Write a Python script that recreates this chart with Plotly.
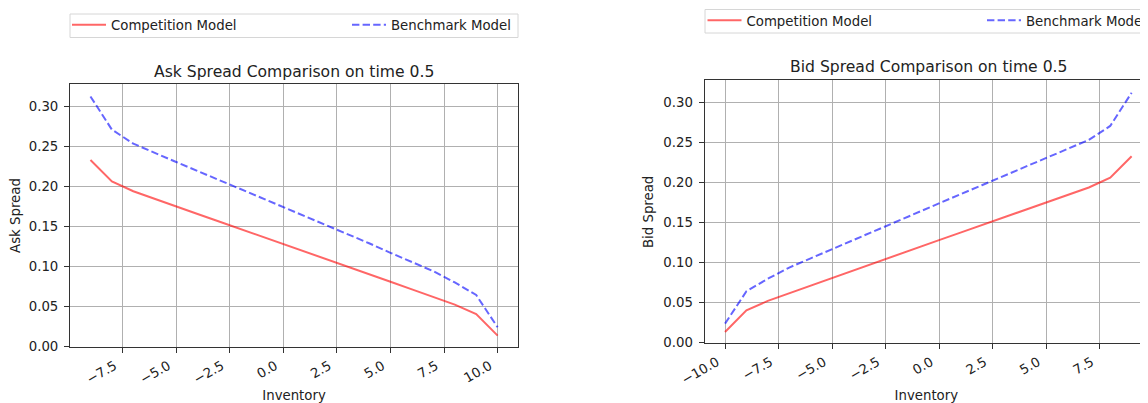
import plotly.graph_objects as go

# reference canvas is 1148x403; the page body adds an 8px offset, so the
# figure is drawn 8px smaller and all reference positions are shifted by 8px
REF_W, REF_H = 1148, 403
OFF = 8
W, H = REF_W - OFF, REF_H - OFF

# ---- data ----
inventory_ask = [-9, -8, -7, -6, -5, -4, -3, -2, -1, 0, 1, 2, 3, 4, 5, 6, 7, 8, 9, 10]
ask_competition = [0.2325, 0.2058, 0.1935, 0.1838, 0.1743, 0.1650, 0.1557, 0.1464, 0.1371, 0.1278,
                   0.1183, 0.1088, 0.0993, 0.0898, 0.0804, 0.0709, 0.0614, 0.0518, 0.0400, 0.0130]
ask_benchmark = [0.3120, 0.2705, 0.2530, 0.2410, 0.2300, 0.2188, 0.2076, 0.1964, 0.1851, 0.1738,
                 0.1625, 0.1512, 0.1399, 0.1285, 0.1165, 0.1050, 0.0935, 0.0795, 0.0638, 0.0234]

inventory_bid = [-10, -9, -8, -7, -6, -5, -4, -3, -2, -1, 0, 1, 2, 3, 4, 5, 6, 7, 8, 9]
bid_competition = [0.0130, 0.0400, 0.0518, 0.0614, 0.0709, 0.0804, 0.0898, 0.0993, 0.1088, 0.1183,
                   0.1278, 0.1371, 0.1464, 0.1557, 0.1650, 0.1743, 0.1838, 0.1935, 0.2058, 0.2325]
bid_benchmark = [0.0234, 0.0638, 0.0795, 0.0935, 0.1050, 0.1165, 0.1285, 0.1399, 0.1512, 0.1625,
                 0.1738, 0.1851, 0.1964, 0.2076, 0.2188, 0.2300, 0.2410, 0.2530, 0.2705, 0.3120]

series_names = ["Competition Model", "Benchmark Model"]
titles = ["Ask Spread Comparison on time 0.5", "Bid Spread Comparison on time 0.5"]
y_titles = ["Ask Spread", "Bid Spread"]
x_title = "Inventory"

FONT = "DejaVu Sans"
RED = "rgba(255,0,0,0.6)"
BLUE = "rgba(0,0,255,0.6)"
TXT = "#222222"
GRID = "#b0b0b0"
SPINE = "#333333"

def px(x):
    return (x - OFF) / W

def py(y):
    return (H - (y - OFF)) / H

fig = go.Figure()

fig.add_trace(go.Scatter(x=inventory_ask, y=ask_competition, mode="lines", name=series_names[0],
                         line=dict(color=RED, width=2), xaxis="x", yaxis="y", legend="legend"))
fig.add_trace(go.Scatter(x=inventory_ask, y=ask_benchmark, mode="lines", name=series_names[1],
                         line=dict(color=BLUE, width=2, dash="7.4px,3.2px"), xaxis="x", yaxis="y",
                         legend="legend2"))
fig.add_trace(go.Scatter(x=inventory_bid, y=bid_competition, mode="lines", name=series_names[0],
                         line=dict(color=RED, width=2), xaxis="x2", yaxis="y2", legend="legend3"))
fig.add_trace(go.Scatter(x=inventory_bid, y=bid_benchmark, mode="lines", name=series_names[1],
                         line=dict(color=BLUE, width=2, dash="7.4px,3.2px"), xaxis="x2", yaxis="y2",
                         legend="legend4"))

tickfont = dict(family=FONT, size=13.3, color=TXT)

def xax(domain, rng, anchor, mirror):
    return dict(domain=domain, range=rng, anchor=anchor, tick0=0, dtick=2.5, tickformat=".1f",
                tickangle=-30, showgrid=True, gridcolor=GRID, gridwidth=1, zeroline=False,
                showline=True, linecolor=SPINE, linewidth=1.2, mirror=mirror, automargin=False,
                ticks="outside", ticklen=5, tickcolor=SPINE, tickwidth=1.2, tickfont=tickfont,
                ticklabelshift=-8, ticklabelstandoff=0,
                title=dict(text=x_title, font=tickfont, standoff=5))

def yax(domain, anchor, mirror, title):
    return dict(domain=domain, range=[-0.0012, 0.3274], anchor=anchor, tick0=0, dtick=0.05,
                tickformat=".2f", showgrid=True, gridcolor=GRID, gridwidth=1, zeroline=False,
                showline=True, linecolor=SPINE, linewidth=1.2, mirror=mirror, automargin=False,
                ticks="outside", ticklen=5, tickcolor=SPINE, tickwidth=1.2, tickfont=tickfont,
                ticklabelstandoff=3,
                title=dict(text=title, font=tickfont, standoff=6))

left_x = [px(70.1), px(518.0)]
right_x = [px(704.7), 1.0]
left_y = [py(347.0), py(84.1)]
right_y = [py(343.3), py(80.4)]
px_per_unit = 21.4
right_end = -10.95 + (REF_W - 704.7) / px_per_unit

legend_common = dict(orientation="v", bgcolor="rgba(0,0,0,0)", borderwidth=0,
                     font=dict(family=FONT, size=13.3, color=TXT), itemwidth=34,
                     xanchor="left", yanchor="middle", tracegroupgap=0)

fig.update_layout(
    width=W, height=H, margin=dict(l=0, r=0, t=0, b=0, autoexpand=False),
    paper_bgcolor="white", plot_bgcolor="white",
    font=dict(family=FONT, size=13.3, color=TXT),
    xaxis=xax(left_x, [-9.95, 10.95], "y", True),
    yaxis=yax(left_y, "x", True, y_titles[0]),
    xaxis2=xax(right_x, [-10.95, right_end], "y2", True),
    yaxis2=yax(right_y, "x2", False, y_titles[1]),
    legend=dict(legend_common, x=px(67), y=py(25)),
    legend2=dict(legend_common, x=px(347), y=py(25)),
    legend3=dict(legend_common, x=px(702.5), y=py(20.7)),
    legend4=dict(legend_common, x=px(982), y=py(20.7)),
    showlegend=True,
)

fig.add_shape(type="rect", xref="paper", yref="paper", x0=px(70), x1=px(518), y0=py(37.5), y1=py(14),
              line=dict(color="#d6d6d6", width=1), fillcolor="rgba(255,255,255,0)", layer="below")
fig.add_shape(type="rect", xref="paper", yref="paper", x0=px(705), x1=px(1160), y0=py(33), y1=py(9.5),
              line=dict(color="#d6d6d6", width=1), fillcolor="rgba(255,255,255,0)", layer="below")

fig.add_annotation(text=titles[0], xref="paper", yref="paper", x=px(294), y=py(72),
                   xanchor="center", yanchor="middle", showarrow=False,
                   font=dict(family=FONT, size=15.6, color=TXT))
fig.add_annotation(text=titles[1], xref="paper", yref="paper", x=px(928.3), y=py(67),
                   xanchor="center", yanchor="middle", showarrow=False,
                   font=dict(family=FONT, size=15.6, color=TXT))

fig.write_html("out.html")
